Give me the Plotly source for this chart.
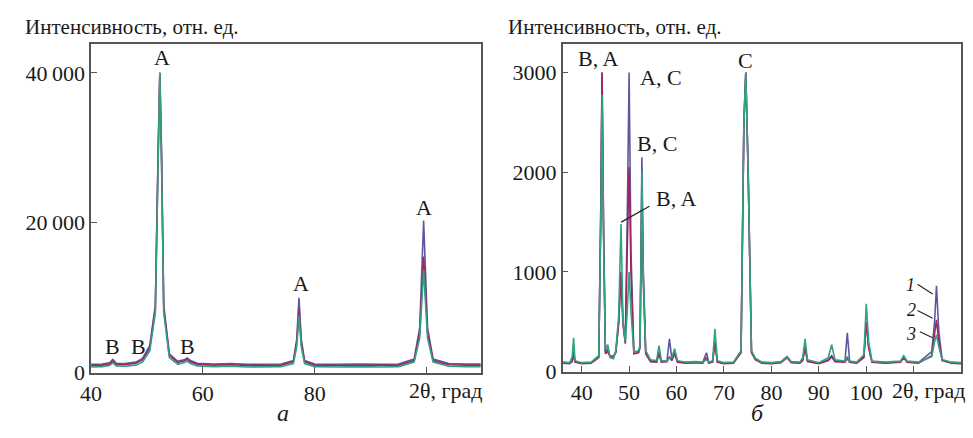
import plotly.graph_objects as go

# ---------------- Panel a (left) ----------------
a_x = [40, 42, 43.3, 43.9, 44.5, 46, 48, 49.2, 50.5, 51.5, 52.0, 52.3, 52.6, 53.0, 54, 55.5,
       56.6, 57.2, 57.8, 59, 62, 65, 68, 71, 74, 76.2, 76.8, 77.2, 77.6, 78.2, 80, 84, 88,
       92, 95, 97.8, 98.8, 99.5, 100.2, 101.2, 104, 107, 110]
a_s1 = [1100, 1150, 1300, 1750, 1250, 1200, 1400, 1900, 3600, 9000, 30000, 40000, 30000, 9000,
        2500, 1500, 1700, 1950, 1600, 1250, 1150, 1200, 1100, 1150, 1150, 1600, 4500, 10000,
        4500, 1600, 1150, 1100, 1150, 1100, 1150, 1800, 6000, 20300, 6000, 1800, 1200, 1150, 1150]
a_s2 = [950, 1000, 1150, 1550, 1100, 1050, 1250, 1700, 3300, 8500, 29000, 40000, 29000, 8500,
        2300, 1350, 1550, 1750, 1450, 1100, 1000, 1050, 950, 1000, 1000, 1450, 4000, 8500,
        4000, 1450, 1000, 950, 1000, 950, 1000, 1600, 5200, 15500, 5200, 1600, 1050, 1000, 1000]
a_s3 = [750, 800, 950, 1300, 900, 850, 1000, 1400, 2900, 8000, 28000, 40000, 28000, 8000,
        2000, 1100, 1300, 1500, 1200, 900, 800, 850, 750, 800, 800, 1200, 3500, 7600,
        3500, 1200, 800, 750, 800, 750, 800, 1400, 4600, 13700, 4600, 1400, 850, 800, 800]

a_yticks = [0, 20000, 40000]
a_yticktext = ["0", "20\u2009000", "40\u2009000"]
a_xticks = [40, 60, 80, 100]
a_xticktext = ["40", "60", "80", ""]

# ---------------- Panel б (right) ----------------
b_x = [36, 37.5, 38.0, 38.3, 38.6, 40, 42, 43.6, 44.0, 44.3, 44.6, 45.0, 45.5, 46.0, 46.7,
       47.2, 47.8, 48.3, 48.7, 49.2, 49.6, 50.0, 50.4, 51.0, 52.0, 52.3, 52.5, 52.7, 53.0,
       53.5, 54.5, 55.8, 56.3, 56.8, 58.0, 58.5, 59.0, 59.6, 60.2, 62, 64, 65.5, 66.3, 66.8,
       67.6, 68.1, 68.6, 70, 72, 73.6, 74.2, 74.6, 75.1, 75.8, 76.6, 78, 80, 82, 83.3, 84.2,
       86, 86.6, 87.1, 87.6, 90, 92, 92.7, 93.4, 95.5, 96.0, 96.5, 98, 99.5, 100.0, 100.5,
       101.2, 104, 107.2, 107.9, 108.6, 111, 113.8, 114.4, 114.8, 115.3, 116, 118, 120]
b_s1 = [90, 85, 110, 200, 100, 85, 90, 150, 1500, 3000, 1500, 200, 230, 150, 140,
        200, 500, 1000, 500, 300, 1500, 3000, 1200, 200, 200, 250, 1200, 2150, 1000,
        200, 110, 100, 200, 100, 110, 330, 130, 200, 100, 90, 95, 90, 190, 90,
        100, 300, 100, 85, 90, 200, 2500, 3000, 2000, 200, 130, 90, 85, 95, 150, 95,
        90, 120, 250, 110, 85, 120, 160, 110, 100, 390, 100, 90, 150, 500, 250,
        100, 90, 100, 150, 100, 90, 200, 500, 860, 400, 120, 90, 85]
b_s2 = [85, 80, 100, 180, 95, 80, 85, 140, 1500, 3000, 1500, 180, 200, 150, 160,
        190, 480, 1000, 480, 280, 1200, 2050, 1000, 180, 190, 240, 1100, 1800, 900,
        180, 100, 95, 180, 95, 100, 150, 110, 180, 95, 85, 90, 85, 140, 85,
        95, 300, 95, 80, 85, 190, 2500, 3000, 2000, 190, 120, 85, 80, 90, 140, 90,
        85, 110, 240, 100, 80, 110, 150, 100, 95, 130, 95, 85, 140, 500, 240,
        95, 85, 95, 140, 95, 85, 160, 380, 520, 300, 110, 85, 80]
b_s3 = [95, 90, 150, 340, 110, 90, 95, 160, 1400, 2780, 1400, 220, 270, 140, 130,
        210, 560, 1480, 520, 300, 600, 1000, 600, 200, 210, 260, 1100, 2000, 950,
        210, 120, 110, 260, 110, 105, 140, 140, 230, 110, 95, 100, 95, 120, 95,
        110, 430, 110, 90, 95, 210, 2500, 3000, 2000, 210, 135, 95, 90, 100, 150, 100,
        95, 140, 330, 120, 90, 140, 270, 120, 105, 150, 105, 95, 170, 680, 300,
        105, 95, 105, 160, 105, 95, 150, 300, 370, 250, 120, 95, 90]

b_yticks = [0, 1000, 2000, 3000]
b_xticks = [40, 50, 60, 70, 80, 90, 100, 110]
b_xticktext = ["40", "50", "60", "70", "80", "90", "100", ""]

series_colors = ["#5f579e", "#a0225f", "#2fa382"]

FONT = "Liberation Serif, Times New Roman, Times, DejaVu Serif, serif"
TXT = "#1a1a1a"

fig = go.Figure()
for ys, col in zip([a_s1, a_s2, a_s3], series_colors):
    fig.add_trace(go.Scatter(x=a_x, y=ys, mode="lines", line=dict(color=col, width=1.6),
                             xaxis="x", yaxis="y", hoverinfo="skip"))
for ys, col in zip([b_s1, b_s2, b_s3], series_colors):
    fig.add_trace(go.Scatter(x=b_x, y=ys, mode="lines", line=dict(color=col, width=1.6),
                             xaxis="x2", yaxis="y2", hoverinfo="skip"))

W, H = 973, 438
def px(x):
    return x / W
def py(y):
    return (H - y) / H

axis_common = dict(showline=True, linecolor="#555555", linewidth=1.5, mirror=True,
                   ticks="inside", ticklen=6, tickcolor="#555555", tickwidth=1.2,
                   showgrid=False, zeroline=False,
                   tickfont=dict(family=FONT, size=22, color=TXT))

fig.update_layout(
    width=W, height=H,
    margin=dict(l=0, r=0, t=0, b=0),
    paper_bgcolor="white", plot_bgcolor="white",
    showlegend=False,
    font=dict(family=FONT, color=TXT),
    xaxis=dict(domain=[px(81), px(475)], range=[40, 109.7], tickmode="array",
               tickvals=a_xticks, ticktext=a_xticktext, anchor="y", **axis_common),
    yaxis=dict(domain=[py(384), py(45)], range=[0, 43900], tickmode="array",
               tickvals=a_yticks, ticktext=a_yticktext, anchor="x", **axis_common),
    xaxis2=dict(domain=[px(558), px(961)], range=[36, 120], tickmode="array",
                tickvals=b_xticks, ticktext=b_xticktext, anchor="y2", **axis_common),
    yaxis2=dict(domain=[py(383), py(45)], range=[0, 3290], tickmode="array",
                tickvals=b_yticks, ticktext=[str(v) for v in b_yticks], anchor="x2", **axis_common),
)

ann = []
def add(text, x, y, xref, yref, size=22, italic=False, xanchor="center"):
    t = f"<i>{text}</i>" if italic else text
    ann.append(dict(text=t, x=x, y=y, xref=xref, yref=yref, showarrow=False,
                    xanchor=xanchor, yanchor="middle",
                    font=dict(family=FONT, size=size, color=TXT)))

# titles
add("Интенсивность, отн. ед.", px(12), py(28), "paper", "paper", size=21, xanchor="left")
add("Интенсивность, отн. ед.", px(501), py(28), "paper", "paper", size=21, xanchor="left")
# x-axis name in place of last tick label
add("2θ, град", px(440), py(402), "paper", "paper")
add("2θ, град", px(928), py(402), "paper", "paper")
# panel letters
add("а", px(275), py(426), "paper", "paper", size=24, italic=True)
add("б", px(755), py(426), "paper", "paper", size=24, italic=True)

# panel a phase labels
add("A", 52.6, 42000, "x", "y")
add("A", 77.5, 11900, "x", "y")
add("A", 99.5, 22000, "x", "y")
add("B", 43.9, 3450, "x", "y")
add("B", 48.5, 3450, "x", "y")
add("B", 57.2, 3450, "x", "y")

# panel б phase labels
add("B, A", 43.5, 3145, "x2", "y2")
add("A, C", 56.7, 2950, "x2", "y2")
add("B, C", 55.8, 2288, "x2", "y2")
add("B, A", 59.8, 1733, "x2", "y2")
add("C", 74.6, 3125, "x2", "y2")

# curve numbers
add("1", 109.4, 865, "x2", "y2", size=18, italic=True)
add("2", 109.5, 620, "x2", "y2", size=18, italic=True)
add("3", 109.5, 380, "x2", "y2", size=18, italic=True)

fig.update_layout(annotations=ann)

shapes = [
    dict(type="line", xref="x2", yref="y2", x0=48.33, y0=1500, x1=54.3, y1=1660,
         line=dict(color="#222", width=1.2)),
    dict(type="line", xref="x2", yref="y2", x0=110.8, y0=877, x1=114.0, y1=779,
         line=dict(color="#222", width=1.1)),
    dict(type="line", xref="x2", yref="y2", x0=110.8, y0=614, x1=114.0, y1=536,
         line=dict(color="#222", width=1.1)),
    dict(type="line", xref="x2", yref="y2", x0=111.3, y0=399, x1=114.0, y1=341,
         line=dict(color="#222", width=1.1)),
]
fig.update_layout(shapes=shapes)

fig.write_html("out.html", config={"displayModeBar": False},
               post_script="document.body.style.margin='0';document.body.style.overflow='hidden';")
